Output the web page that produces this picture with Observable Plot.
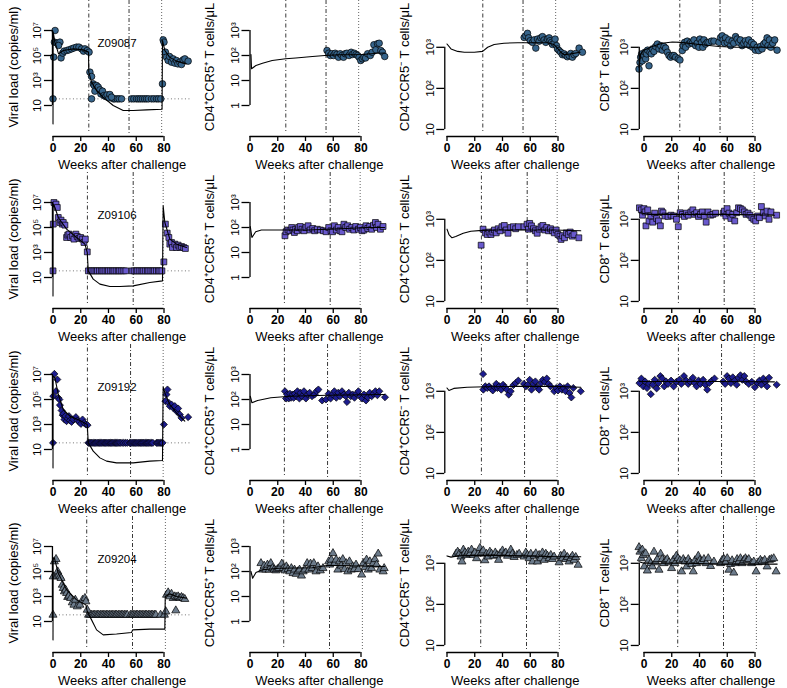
<!DOCTYPE html>
<html><head><meta charset="utf-8">
<script src="https://cdn.jsdelivr.net/npm/d3@7"></script>
<script src="https://cdn.jsdelivr.net/npm/@observablehq/plot@0.6"></script>
<style>
body{margin:0;background:#fff;}
#grid{display:grid;grid-template-columns:197px 197px 197px 196px;grid-template-rows:repeat(4,172px);width:787px;height:688px;overflow:hidden;}
#grid svg{display:block;}
</style></head><body><div id="grid"></div>
<script>
// ---------- tick labels / categories ----------
const animalNames = ["Z09087", "Z09106", "Z09192", "Z09204"];
const weekTicks = [0, 20, 40, 60, 80];
const vlTicks = [10, 1e3, 1e5, 1e7];
const vlTickLabels = ["10", "10³", "10⁵", "10⁷"];
const ccr5pTicks = [1, 10, 100, 1000];
const ccr5pTickLabels = ["1", "10", "10²", "10³"];
const ccr5nTicks = [10, 100, 1000];
const ccr5nTickLabels = ["10", "10²", "10³"];
const cd8Ticks = [10, 100, 1000];
const cd8TickLabels = ["10", "10²", "10³"];
const detectionLimit = 34;

// treatment event weeks per animal (start ART, stop ART, rebound)
const z09087Events = [25.8, 54.8, 78.3];
const z09106Events = [24.8, 57.8, 79.4];
const z09192Events = [24.8, 55.9, 79.4];
const z09204Events = [24.3, 57.3, 81];

// ---------- data: [week, log10(value)] ----------
const z09087_vl = [[0.5,4.87],[1.5,7.0],[1,6.07],[3,5.99],[5,6.07],[4,5.8],[5.8,4.81],[7,5.19],[8,5.35],[10,5.4],[11.5,5.45],[13.4,5.53],[15,5.6],[17,5.67],[18.7,5.67],[20.6,5.53],[22,5.35],[23,5.53],[24.7,5.4],[26,5.27],[26.6,3.67],[27.8,3.32],[29,2.73],[29.7,2.6],[30.2,2.15],[31.4,2.6],[32.6,2.47],[33.8,2.25],[34.5,1.93],[35.7,2.15],[36.7,1.8],[37.9,1.72],[39,1.85],[40.3,1.61],[41,1.88],[42.2,1.67],[78.9,2.73],[79.4,6.25],[80,6.07],[81,5.27],[81.8,4.87],[83,4.6],[84,4.92],[85.4,4.47],[86.6,4.73],[87.8,4.39],[89,4.6],[90,4.33],[91.4,4.47],[92.6,4.28],[93.8,4.65],[95,4.73],[97.4,4.55]];
const z09087_vlBelowLimit = [0,27.8,43.4,44.6,46.3,47.7,49.4,56.6,58.3,60.2,61.6,63,64.5,66,67.4,68.8,71,72.7,74.6,76,77.7];
const z09087_vlFit = [[0,-0.47],[0.1,6.9],[1.4,6.07],[4,5.13],[7.4,5.4],[14.6,5.53],[21.8,5.45],[25.6,5.27],[25.8,3.67],[27.8,2.87],[31.4,2.2],[36,1.67],[43.4,1.0],[50.6,0.6],[57.8,0.6],[67.4,0.65],[78.6,0.7],[78.9,6.2],[80.6,5.4],[84,4.87],[89,4.55],[96,4.33]];
const z09087_ccr5p = [[55.5,2.2],[56.7,2.09],[57.9,2.0],[59,2.07],[60.2,2.0],[61.4,2.09],[62.6,2.04],[63.8,1.93],[65,2.07],[66.2,2.0],[67.4,1.93],[68.6,2.07],[69.8,2.09],[71.4,2.0],[72.9,2.13],[73.8,2.04],[75.2,2.09],[76.4,2.04],[77.6,2.0],[78.6,1.93],[79.8,1.8],[81,1.87],[82.1,1.93],[83.3,1.9],[84.8,2.07],[86.7,2.0],[88.1,2.13],[89.3,2.43],[90.7,2.23],[91.9,2.47],[93.1,2.49],[94.3,2.2],[95.5,2.13],[97.1,1.96]];
const z09087_ccr5pFit = [[0.7,2.04],[1.1,1.47],[4.3,1.6],[9,1.69],[16,1.8],[25.7,1.87],[33,1.9],[45,1.96],[54,2.0],[64,2.03],[73,2.03],[80.5,2.04],[92,2.09],[97,2.1]];
const z09087_ccr5n = [[55.6,3.24],[56.8,3.28],[58,3.34],[58.8,3.23],[60,3.16],[61.6,3.12],[62.8,3.18],[64,2.98],[65.2,3.2],[66.4,3.15],[67.6,3.23],[68.8,3.26],[70,3.18],[71.2,3.12],[72.4,3.2],[73.6,3.23],[74.3,3.16],[75.3,3.12],[76,3.07],[77.2,3.1],[77.9,3.2],[78.9,3.04],[79.6,2.96],[80.8,2.92],[82,2.88],[83.2,2.82],[84.4,2.84],[85.6,2.8],[86.8,2.77],[88,2.8],[89.2,2.85],[90.4,2.76],[91.6,2.82],[92.8,2.85],[95.2,2.98],[97.6,2.88]];
const z09087_ccr5nFit = [[0,3.08],[2.9,2.96],[7.7,2.9],[12.5,2.88],[19.7,2.88],[25.7,2.9],[29.3,3.0],[34,3.07],[41,3.1],[51,3.11],[60,3.11],[72.4,3.11],[77,3.07],[79.6,2.98],[82,2.88],[84.4,2.82],[89,2.84],[96,2.88]];
const z09087_cd8 = [[-3.6,2.47],[-2.9,2.63],[-2.4,2.76],[-1.7,2.84],[-1.2,2.67],[0,2.8],[0.7,2.88],[1.2,2.72],[1.9,2.84],[2.6,2.93],[3.6,2.55],[4.3,2.88],[5.3,2.84],[6,2.96],[7.2,2.9],[8.4,3.02],[9.6,3.08],[10.8,2.96],[12,3.04],[13.2,2.93],[14.4,3.02],[15.6,2.98],[16.8,2.88],[18,2.8],[19.2,2.76],[20.4,2.8],[21.6,2.8],[22.8,2.76],[24.7,2.72],[25.9,2.69],[27.6,2.92],[28.3,3.04],[29.3,3.12],[30,3.0],[31.2,3.15],[32.4,3.08],[33.6,3.12],[34.8,3.1],[36,3.18],[37.2,3.04],[38.4,3.1],[39.6,3.0],[40.3,3.2],[41.5,3.12],[42.4,3.0],[43.2,3.18],[44.4,3.08],[45.6,3.12],[46.8,3.12],[48.7,3.15],[50.4,3.15],[54,3.12],[55.2,3.24],[56.4,3.28],[57,3.18],[58,3.1],[58.8,3.23],[60,3.12],[61.2,3.18],[62.4,3.04],[63.5,3.15],[64.7,3.1],[66,3.26],[67.1,3.2],[68.3,3.12],[69.5,3.18],[70.7,3.04],[71.9,3.1],[73.1,3.16],[74.3,3.08],[75.5,3.18],[76.3,3.04],[77.5,3.12],[78.4,3.0],[79.1,3.07],[80.3,2.93],[81.5,3.0],[82.7,2.92],[83.9,3.02],[85.1,2.96],[86.3,3.08],[87.5,3.12],[88.7,3.23],[89.4,3.04],[90.4,3.18],[91.4,3.0],[92.8,3.1],[94.2,3.18],[95.9,2.93]];
const z09087_cd8Fit = [[-3.6,2.51],[-2.4,2.84],[0,2.93],[6,3.02],[13,3.1],[20.4,3.13],[26.4,3.12],[40,3.07],[54,3.02],[66,3.0],[78,3.0],[94.7,3.0]];

const z09106_vl = [[0.2,5.27],[0.7,7.0],[2.2,6.87],[3.1,6.6],[3.8,5.8],[5,5.4],[5.8,5.59],[6.7,5.27],[7.4,5.4],[8.6,5.19],[9.8,4.2],[10.6,4.39],[11.5,4.47],[12.7,4.2],[14.1,4.33],[15.1,4.07],[16.5,4.47],[17.5,4.28],[18.7,4.12],[19.9,4.2],[21.3,4.07],[22.3,3.8],[23.3,4.07],[24.7,3.05],[79.9,2.25],[81,5.27],[82.3,4.55],[83.5,4.2],[84.2,3.67],[85.4,3.8],[86.1,3.4],[87.8,3.67],[89,3.4],[90.2,3.59],[91.4,3.4],[92.6,3.48],[94.2,3.4],[95.4,3.32]];
const z09106_vlBelowLimit = [0,25.5,27,28,29.5,31,32,33.5,35,36,37.5,39,40,41.5,43,44,45.5,47,48,49.5,51,52.5,57,58.5,60,61,62.5,64,65,66.5,68,69,70.5,72,73,74.5,76,77,78.5];
const z09106_vlFit = [[0,-0.47],[0.1,6.87],[1.4,6.6],[3.8,5.8],[9.8,4.87],[17,4.2],[23,3.67],[24.7,3.0],[25.4,1.53],[29,0.87],[33.8,0.47],[41,0.28],[48.2,0.28],[57.8,0.33],[69.8,0.6],[78.9,0.73],[79.4,6.73],[80.6,5.4],[84.2,4.07],[89,3.67],[96.2,3.4]];
const z09106_ccr5p = [[25.2,1.67],[26,1.83],[27.4,1.9],[28.8,1.87],[30.1,2.0],[31,1.9],[32,1.8],[32.9,1.93],[34.2,1.87],[35,2.0],[36.2,2.04],[37.5,1.93],[38.9,1.87],[40.3,2.0],[41.9,2.07],[43.3,1.9],[45.2,1.96],[46.6,1.87],[48.5,1.93],[50.7,1.9],[52.9,1.87],[54.8,1.83],[56.7,2.0],[58.4,1.87],[59.5,1.83],[60.8,2.07],[62.2,1.9],[63.6,2.0],[64.9,1.87],[66.3,1.83],[67.7,2.13],[69,2.0],[70.4,2.07],[71.8,1.93],[73.4,2.0],[74.8,1.9],[76.2,2.04],[78.1,1.93],[79.5,2.0],[80.8,1.87],[82.2,1.9],[83.6,2.07],[84.9,1.96],[86.3,2.04],[87.7,1.93],[89,2.09],[90.4,2.2],[91.2,2.0],[92.3,2.13],[94,1.93],[95.9,2.04]];
const z09106_ccr5pFit = [[0.2,2.04],[1.4,1.6],[4.1,1.83],[8.2,1.9],[15,1.9],[28.8,1.9],[42.5,1.9],[56,1.93],[70,1.96],[83.6,2.0],[97,2.0]];
const z09106_ccr5n = [[24.6,2.37],[26,2.76],[27.6,2.67],[29,2.63],[30.3,2.69],[31.7,2.63],[33,2.69],[34.2,2.74],[35.5,2.67],[36.9,2.77],[38.3,2.72],[39.6,2.82],[41.3,2.85],[42.6,2.74],[44,2.66],[45.9,2.8],[47.8,2.82],[49.5,2.77],[51.4,2.82],[55.5,2.82],[57.7,2.88],[58.7,2.76],[59.6,2.9],[60.9,2.84],[62.3,2.77],[63.7,2.72],[65,2.66],[66.4,2.76],[67.8,2.82],[69.1,2.85],[70.5,2.74],[71.9,2.8],[73.2,2.72],[74.6,2.77],[76,2.72],[77.3,2.67],[78.7,2.74],[80,2.63],[81.4,2.59],[82.2,2.51],[83.3,2.6],[84.7,2.55],[86,2.67],[87.4,2.63],[88.8,2.69],[90.2,2.59],[91.5,2.63],[95,2.55]];
const z09106_ccr5nFit = [[0,2.76],[1.4,2.63],[3.6,2.55],[6.3,2.58],[11.7,2.66],[17.2,2.71],[25.4,2.73],[36.3,2.74],[50,2.74],[63.7,2.74],[77.3,2.74],[96.4,2.72]];
const z09106_cd8 = [[-3.3,3.28],[-1.9,3.23],[-1.1,3.1],[0,3.26],[0.8,3.18],[1.4,2.84],[2.7,3.23],[3.6,2.96],[4.9,3.08],[6.3,2.93],[7.7,3.15],[9.1,3.02],[10.4,2.96],[11.8,2.84],[12.6,3.2],[13.7,3.16],[15.1,3.08],[17.3,3.07],[19.5,3.1],[21.4,3.08],[23.4,3.0],[24.7,2.82],[26.1,3.16],[27.7,3.12],[29.1,3.07],[30.5,3.15],[31.9,3.1],[33.8,3.18],[35.2,3.23],[36.5,3.12],[37.9,3.16],[39.3,3.07],[40.7,3.12],[42,3.18],[43.4,3.08],[44.8,2.93],[46.2,3.18],[48.1,3.1],[49.7,3.12],[51.6,3.15],[57.1,3.15],[58,3.2],[59,3.08],[59.9,3.26],[61.3,3.15],[62.6,3.02],[64,3.12],[65.4,2.96],[66.8,3.16],[68.1,3.28],[69.5,3.26],[70.9,3.23],[72.3,3.18],[73.6,3.12],[75,3.15],[76.4,3.1],[77.7,3.04],[79.1,3.0],[80.5,2.96],[81.9,3.08],[83.2,3.04],[84.6,3.31],[86,3.16],[87.4,3.08],[88.7,3.2],[90.1,3.0],[91.5,3.18],[95.6,3.1]];
const z09106_cd8Fit = [[-3.3,3.16],[3.6,3.12],[31,3.12],[58.5,3.12],[94,3.1]];

const z09192_vl = [[0.2,5.27],[1,7.05],[2.2,5.67],[3.1,6.6],[3.8,5.13],[4.6,5.0],[5,4.55],[6.2,4.12],[7,3.75],[7.4,3.85],[8.2,3.4],[8.9,3.67],[9.8,3.27],[10.6,3.48],[11.5,3.67],[12.2,3.32],[13.4,3.21],[14.6,3.4],[16.5,3.59],[17.7,3.32],[18.9,3.21],[20.1,3.05],[21.3,3.4],[22.5,3.13],[23.7,3.0],[24.9,2.95],[79.9,3.0],[81,4.87],[81.8,5.4],[82.5,5.8],[83.5,4.73],[84.2,4.47],[85.4,4.6],[86.6,4.33],[87.8,4.47],[89,4.07],[90.2,4.28],[91.4,3.8],[92.6,3.53],[97.4,3.59]];
const z09192_vlBelowLimit = [0,25.5,26.4,27.3,28.1,29,30,30.8,31.7,32.6,33.5,34.4,35.2,36.1,37,37.9,38.8,39.7,40.5,41.4,42.3,43.2,44.1,45,45.8,46.7,47.6,48.5,49.8,51,52.3,53.5,55.2,56,56.9,57.8,58.6,59.5,60.4,61.3,62.1,63,63.9,64.8,65.6,66.5,67.4,68.3,69.1,70,71,72,74.6,75.5,76.4,77.3,78.2,79];
const z09192_vlFit = [[0,-0.47],[0.1,6.87],[1.4,6.73],[3.8,5.4],[7.4,4.2],[12.2,3.67],[19.4,3.32],[24.7,3.0],[25.4,1.53],[29,0.87],[33.8,0.33],[38.6,0.07],[45.8,-0.07],[57.8,-0.07],[69.8,0.07],[78.9,0.12],[79.4,6.0],[80.6,5.53],[84.2,4.6],[89,3.93],[93.8,3.4],[95,3.27]];
const z09192_ccr5p = [[25.2,2.33],[26,2.04],[26.8,2.2],[27.9,2.04],[28.8,2.23],[29.6,2.07],[30.7,2.2],[31.5,2.07],[32.3,2.23],[33.4,2.13],[34.2,2.33],[35.6,2.04],[36.4,2.27],[37.5,2.13],[38.9,2.33],[40.3,2.04],[41.6,2.2],[43,2.27],[44.7,2.13],[46.6,2.2],[47.9,2.33],[49.3,2.4],[52,1.96],[54.8,2.0],[56.7,2.23],[58.1,2.04],[59.5,2.2],[60.8,2.33],[62.2,2.07],[63.6,2.27],[64.9,2.13],[66.3,2.33],[67.7,2.2],[69,2.13],[69.9,1.9],[71.2,2.27],[72.6,2.13],[74,2.2],[75.3,2.07],[76.7,2.23],[78.1,2.33],[79.5,2.13],[80.8,2.04],[82.2,2.2],[83.6,1.96],[84.9,2.09],[86.3,2.27],[87.7,2.13],[89,2.23],[90.4,2.33],[91.8,2.17],[93.2,2.33],[97.3,2.09]];
const z09192_ccr5pFit = [[0.2,2.13],[1.4,1.87],[5.5,1.96],[15,2.07],[28.8,2.13],[56,2.17],[97,2.2]];
const z09192_ccr5n = [[26,3.42],[26.2,3.04],[27.6,3.12],[29,3.08],[30.3,3.12],[31.7,3.07],[33,3.02],[34.4,3.1],[35.5,3.18],[36.3,3.08],[37.7,3.12],[39.1,3.04],[40.4,3.16],[41.8,3.1],[43.2,3.04],[44.5,2.92],[45.9,3.0],[47.8,3.15],[49.5,3.2],[51.4,3.26],[55.5,3.18],[56.8,3.12],[58.2,3.16],[59.6,3.28],[60.9,3.04],[62.3,3.18],[63.7,3.24],[65,3.1],[66.4,3.04],[67.8,3.2],[69.1,3.28],[70.5,3.23],[71.9,3.31],[73.2,3.18],[74.6,3.12],[77.3,3.0],[78.7,3.08],[80,3.02],[81.4,3.12],[82.8,3.04],[84.2,3.08],[85.5,3.0],[86.9,3.12],[88.3,2.96],[89.6,2.85],[91,3.08],[96.4,3.0]];
const z09192_ccr5nFit = [[0,3.08],[1.4,3.02],[4.9,3.07],[14.5,3.1],[28.1,3.11],[50,3.12],[77.3,3.12],[96.4,3.1]];
const z09192_cd8 = [[-3.3,3.2],[-1.9,3.31],[-0.5,3.12],[0.8,3.24],[2.2,3.08],[3.6,3.18],[4.9,2.93],[6.3,3.16],[7.7,3.28],[9.1,3.07],[10.4,3.2],[11.8,3.37],[13.2,3.31],[14.6,3.12],[15.9,3.24],[17.3,3.18],[19.5,3.26],[21.4,3.12],[23.4,3.23],[25.5,3.28],[26.9,3.18],[28.8,3.37],[30.5,3.26],[31.9,3.18],[33.2,3.24],[35.2,3.33],[36.5,3.2],[37.9,3.12],[39.3,3.26],[40.7,3.18],[42.6,3.28],[44.2,3.16],[45.6,3.04],[47,3.2],[48.9,3.26],[50.8,3.31],[57.1,3.24],[58.5,3.18],[59.9,3.37],[61.3,3.31],[62.6,3.2],[64,3.34],[65.4,3.26],[66.8,3.16],[68.1,3.33],[69.5,3.39],[70.9,3.28],[72.3,3.37],[73.6,3.24],[75.5,3.18],[77.7,3.23],[79.9,3.1],[81.9,3.2],[83.2,3.26],[84.6,3.16],[86,3.31],[87.4,3.23],[88.7,3.12],[90.1,3.33],[95.6,3.16]];
const z09192_cd8Fit = [[-3.3,3.24],[20,3.24],[50,3.24],[94,3.23]];

const z09204_vl = [[0.2,4.6],[1,5.8],[2.2,5.99],[2.6,4.6],[3.4,5.0],[4.1,4.73],[5,4.6],[5.8,4.47],[6.7,3.93],[7.4,3.67],[8.2,3.4],[9.1,3.53],[9.8,3.27],[10.6,2.95],[11.5,3.05],[12.7,2.87],[13.9,2.52],[15.1,2.33],[16.1,2.73],[17.5,2.2],[19.4,2.33],[21.3,2.73],[23,2.87],[23.7,2.6],[24.7,1.93],[81.3,1.8],[81.8,3.13],[83,3.32],[84.2,3.0],[85.4,3.21],[86.6,2.87],[87.8,3.0],[88.5,1.88],[89,2.95],[90.2,3.0],[91.4,2.87],[92.6,2.95],[93.8,2.87],[95,2.79]];
const z09204_vlBelowLimit = [0,25.6,26.6,27.7,28.9,29.8,31,32.1,33,34.2,35.3,36.2,37.4,38.5,39.5,40.6,41.8,42.7,43.9,45,45.9,47.1,48.2,49.3,50.3,51.5,52.6,53.6,55.8,56.9,57.8,59,60.1,61,62.2,63.3,64.3,65.5,66.6,67.5,68.7,69.8,70.9,71.9,73.1,74.1,77.5,80.3];
const z09204_vlFit = [[0,-0.47],[0.1,6.07],[1,6.07],[3.8,4.87],[9.8,3.53],[17,2.73],[23.7,2.33],[24.7,1.8],[27.8,1.13],[31.4,0.33],[36.2,-0.07],[45.8,0],[56.6,0.12],[57.4,0.33],[69.8,0.39],[80.6,0.39],[80.9,3.0],[84.2,3.21],[89,3.0],[96.2,2.87]];
const z09204_ccr5p = [[7.9,2.33],[9,2.07],[10.2,2.23],[11.4,2.07],[12.6,2.27],[13.8,2.07],[15,2.33],[16.2,2.13],[17.4,2.07],[18.6,2.04],[19.8,2.09],[21,2.13],[22.9,2.31],[24,2.13],[25.2,2.04],[26.2,2.2],[27.4,2.09],[28.6,2.0],[29.8,2.13],[31,1.93],[32.1,2.07],[33.3,1.9],[34.5,2.0],[35.7,2.07],[37.1,1.83],[38.3,2.0],[39.5,2.07],[41.2,2.33],[42.4,2.07],[43.6,2.31],[44.8,2.13],[46,2.33],[47.6,2.0],[49,2.2],[50.7,2.04],[52.6,2.13],[56.7,2.4],[57.4,2.27],[58.6,2.47],[59.8,2.73],[61,2.33],[62.1,2.47],[63.3,2.07],[64.5,2.4],[65.7,2.23],[66.9,2.49],[68.1,2.09],[69.3,2.33],[70.5,2.0],[71.7,2.4],[72.9,2.07],[74,2.2],[75.2,2.09],[76.4,2.27],[78.1,2.09],[80.5,1.87],[81.7,2.33],[82.9,2.17],[84,2.47],[85.2,2.07],[86.4,2.4],[87.6,2.13],[88.8,2.33],[90,2.49],[91.2,2.27],[92.4,2.71],[93.6,2.07],[96,2.0],[96.7,2.13]];
const z09204_ccr5pFit = [[0.7,2.0],[1.9,1.73],[4.3,1.96],[9,2.07],[21,2.13],[44.8,2.15],[56.7,2.25],[68.6,2.23],[97,2.2]];
const z09204_ccr5n = [[6.5,3.23],[7.7,3.28],[8.9,3.23],[10.1,3.16],[10.8,3.04],[11.8,3.33],[13,3.26],[14.1,3.2],[15.3,3.28],[16.5,3.23],[17.7,3.33],[18.9,3.2],[20.1,3.26],[21.3,3.12],[22.5,3.23],[23.7,3.37],[24.9,3.26],[26.1,3.31],[27.3,3.07],[28.5,3.23],[29.7,3.16],[30.9,3.28],[32.1,3.23],[33.6,3.18],[34.8,3.26],[36,3.2],[37.2,3.08],[38.4,3.24],[40,3.31],[41.2,3.23],[42.4,3.26],[43.6,3.18],[44.8,3.23],[46,3.33],[47.2,3.23],[48.4,3.15],[50.4,3.2],[52,3.23],[55.6,3.16],[56.8,3.26],[58,3.2],[59.2,3.12],[60.4,3.23],[61.6,3.04],[62.8,3.18],[64,3.24],[65.2,3.04],[66.4,3.2],[67.6,3.12],[68.8,3.26],[70,3.08],[71.2,3.23],[72.4,3.18],[73.6,3.12],[74.8,3.2],[76,3.1],[77.2,3.16],[80.8,3.02],[82,3.18],[83.2,3.12],[84.4,3.23],[85.6,3.1],[86.8,3.15],[88,3.04],[89.2,3.12],[90.4,3.18],[91.6,3.08],[92.8,3.15],[94.5,2.96]];
const z09204_ccr5nFit = [[0,3.18],[2.9,3.15],[7.7,3.18],[31.7,3.2],[55.6,3.18],[79.6,3.16],[96.4,3.16]];
const z09204_cd8 = [[-3.6,3.39],[-2.9,3.28],[-1.9,3.12],[-1.2,3.33],[-0.5,3.2],[0.2,2.92],[1.2,3.24],[2.4,2.82],[3.6,3.08],[4.8,3.0],[6,2.92],[7.2,3.28],[8.4,3.02],[9.6,3.1],[10.8,2.84],[12,3.23],[13.2,3.1],[14.4,3.0],[15.6,3.07],[16.8,3.1],[18,3.02],[19.9,2.88],[21.1,3.08],[22.3,3.0],[23.3,3.18],[24.5,3.12],[25.9,3.07],[27.1,2.8],[28.3,3.1],[29.5,3.04],[30.7,2.92],[31.9,3.1],[33.1,3.02],[34.3,2.98],[35.5,2.8],[36.7,3.07],[37.9,3.0],[39.1,3.18],[40.3,3.08],[41.5,3.04],[43.2,3.1],[44.8,3.0],[46.3,3.12],[48,2.93],[50.4,3.04],[55.2,3.0],[56.4,3.08],[57.6,3.1],[58.8,3.02],[60,3.12],[61.2,2.84],[62.4,2.98],[63.5,3.07],[64.7,2.77],[66,3.0],[67.1,3.1],[68.3,3.04],[69.5,3.12],[70.7,3.0],[71.9,3.08],[73.1,3.12],[74.3,3.07],[75.5,3.1],[77.5,3.0],[79.1,3.04],[80.8,2.8],[82.3,3.02],[83.9,3.08],[85.1,3.04],[87,3.08],[88.7,2.92],[90.4,3.08],[91.8,3.1],[93.5,3.12],[95.2,2.8]];
const z09204_cd8Fit = [[-3.6,3.04],[0,3.0],[30,3.0],[54,2.98],[78,2.98],[96,2.98]];

// ---------- assembly ----------
const animals = [
  {name: animalNames[0], events: z09087Events, color: "#36648B", symbol: "circle", r: 3.3,
   vl: z09087_vl, lod: z09087_vlBelowLimit, vlFit: z09087_vlFit, ccr5p: z09087_ccr5p, ccr5pFit: z09087_ccr5pFit,
   ccr5n: z09087_ccr5n, ccr5nFit: z09087_ccr5nFit, cd8: z09087_cd8, cd8Fit: z09087_cd8Fit},
  {name: animalNames[1], events: z09106Events, color: "#6959CD", symbol: "square", r: 3.3,
   vl: z09106_vl, lod: z09106_vlBelowLimit, vlFit: z09106_vlFit, ccr5p: z09106_ccr5p, ccr5pFit: z09106_ccr5pFit,
   ccr5n: z09106_ccr5n, ccr5nFit: z09106_ccr5nFit, cd8: z09106_cd8, cd8Fit: z09106_cd8Fit},
  {name: animalNames[2], events: z09192Events, color: "#1C1C8E", symbol: "diamond2", r: 3.2,
   vl: z09192_vl, lod: z09192_vlBelowLimit, vlFit: z09192_vlFit, ccr5p: z09192_ccr5p, ccr5pFit: z09192_ccr5pFit,
   ccr5n: z09192_ccr5n, ccr5nFit: z09192_ccr5nFit, cd8: z09192_cd8, cd8Fit: z09192_cd8Fit},
  {name: animalNames[3], events: z09204Events, color: "#6C7B8B", symbol: "triangle", r: 3.0,
   vl: z09204_vl, lod: z09204_vlBelowLimit, vlFit: z09204_vlFit, ccr5p: z09204_ccr5p, ccr5pFit: z09204_ccr5pFit,
   ccr5n: z09204_ccr5n, ccr5nFit: z09204_ccr5nFit, cd8: z09204_cd8, cd8Fit: z09204_cd8Fit}
];

const columns = [
  {key: "vl", title: "Viral load (copies/ml)", ticks: vlTicks, labels: vlTickLabels, logMin: -1.24, logMax: 9.4, xmin: -0.4, titleX: 13},
  {key: "ccr5p", title: "CD4⁺CCR5⁺ T cells/μL", ticks: ccr5pTicks, labels: ccr5pTickLabels, logMin: -1.12, logMax: 4.2, xmin: 0, titleX: 12},
  {key: "ccr5n", title: "CD4⁺CCR5⁻ T cells/μL", ticks: ccr5nTicks, labels: ccr5nTickLabels, logMin: 0.902, logMax: 4.139, xmin: -1.6, titleX: 10},
  {key: "cd8", title: "CD8⁺ T cells/μL", ticks: cd8Ticks, labels: cd8TickLabels, logMin: 0.902, logMax: 4.139, xmin: -3.4, titleX: 13}
];

const FONT = '"Liberation Sans", Arial, Helvetica, sans-serif';
const X0 = 52.5, PXW = 1.3875, XMAX = 100, H = 172, MB = 39;
const pw = d => d[0];
const pv = d => Math.pow(10, d[1]);

function panel(a, col, width) {
  const marginLeft = X0 + col.xmin * PXW;
  const marginRight = width - (X0 + XMAX * PXW);
  const yDomain = [Math.pow(10, col.logMin), Math.pow(10, col.logMax)];
  const isVL = col.key === "vl";
  const marks = [
    Plot.ruleX([a.events[0]], {stroke: "#222", strokeWidth: 0.9, strokeDasharray: "1,2.5,4,2.5"}),
    Plot.ruleX([a.events[1]], {stroke: "#222", strokeWidth: 0.9, strokeDasharray: "4,2,1,2"}),
    Plot.ruleX([a.events[2]], {stroke: "#555", strokeWidth: 0.9, strokeDasharray: "1,2"})
  ];
  if (isVL) {
    marks.push(Plot.ruleY([detectionLimit], {stroke: "#666", strokeWidth: 0.9, strokeDasharray: "1,2.5"}));
    marks.push(Plot.dot(a.lod, {x: d => d, y: () => detectionLimit, symbol: a.symbol, r: a.r, fill: a.color, stroke: "#000", strokeWidth: 0.7}));
    marks.push(Plot.text([a.name], {frameAnchor: "top", dy: 43, dx: -5, fontSize: 11.5, lineAnchor: "middle"}));
  }
  marks.push(Plot.dot(a[col.key], {x: pw, y: pv, symbol: a.symbol, r: a.r, fill: a.color, stroke: "#000", strokeWidth: 0.7}));
  marks.push(Plot.line(a[col.key + "Fit"], {x: pw, y: pv, stroke: "#000", strokeWidth: 1.1}));
  // axes (R style)
  marks.push(Plot.ruleX([col.xmin], {y1: col.ticks[0], y2: col.ticks[col.ticks.length - 1], stroke: "#000", strokeWidth: 1.3}));
  marks.push(Plot.axisY({ticks: col.ticks, tickSize: 8, tickFormat: () => "", label: null, strokeWidth: 1.3}));
  marks.push(Plot.text(col.ticks, {frameAnchor: "left", y: d => d, text: (d, i) => col.labels[i], rotate: -90, dx: -11, lineAnchor: "bottom", textAnchor: "middle", fontSize: 11.5}));
  marks.push(Plot.ruleY([yDomain[0]], {x1: weekTicks[0], x2: weekTicks[weekTicks.length - 1], dy: 3, stroke: "#000", strokeWidth: 1.3}));
  marks.push(Plot.axisX({ticks: weekTicks, tickSize: 5, tickPadding: 2, dy: 3, label: null, fontSize: 12, fontWeight: "bold", strokeWidth: 1.3}));
  marks.push(Plot.text(["Weeks after challenge"], {frameAnchor: "bottom", dy: 31, fontSize: 13, lineAnchor: "middle"}));
  marks.push(Plot.text([col.title], {frameAnchor: "left", rotate: -90, dx: col.titleX - marginLeft, fontSize: 13, lineAnchor: "middle", textAnchor: "middle"}));
  return Plot.plot({
    width, height: H, marginTop: 0, marginBottom: MB, marginLeft, marginRight,
    x: {domain: [col.xmin, XMAX]},
    y: {type: "log", domain: yDomain},
    style: {fontFamily: FONT, background: "white", color: "black", overflow: "hidden"},
    marks
  });
}

const grid = document.getElementById("grid");
const widths = [197, 197, 197, 196];
animals.forEach(a => {
  columns.forEach((col, j) => grid.appendChild(panel(a, col, widths[j])));
});
</script>
</body></html>
